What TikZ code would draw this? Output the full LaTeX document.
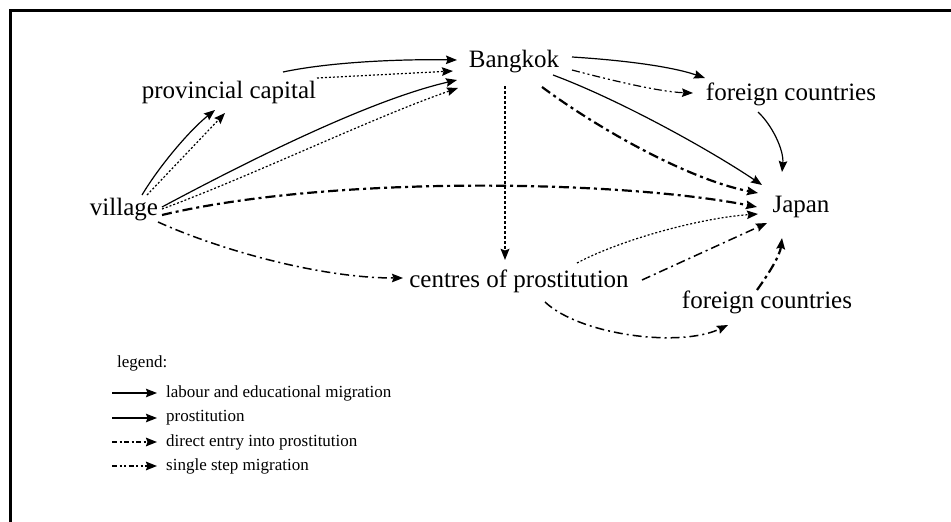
\documentclass[tikz,border=0pt]{standalone}
\usepackage{fontspec}
\setmainfont{Liberation Serif}
\usetikzlibrary{arrows.meta,calc}
\tikzset{
  lbl/.style={inner sep=0pt, font=\fontsize{25}{30}\selectfont},
  leg/.style={inner sep=0pt, anchor=west, font=\fontsize{17}{20}\selectfont},
  tip/.style={-{Stealth[length=11pt,width=8.5pt,inset=1.5pt]}},
  solidl/.style={tip, line width=1.2pt},
  dotl/.style={tip, line width=1.2pt, dash pattern=on 2pt off 2pt},
  dotthick/.style={tip, line width=2.2pt, dash pattern=on 2.5pt off 2.5pt},
  dashdotthick/.style={tip, line width=2.2pt, dash pattern=on 10pt off 4pt on 3pt off 4pt},
  dashdotthin/.style={tip, line width=1.5pt, dash pattern=on 9pt off 4pt on 2pt off 4pt},
  dashdotdot/.style={tip, line width=1.2pt, dash pattern=on 8pt off 3pt on 2pt off 3pt on 2pt off 3pt},
}
\begin{document}
\begin{tikzpicture}[x=1pt,y=-1pt]
\useasboundingbox (0,0) rectangle (951,522);
% frame (top and left edges)
\draw[line width=3pt, line join=miter] (10,522) -- (10,10) -- (951,10);

% nodes
\node[lbl] (V)  at (124,210) {village};
\node[lbl] (P)  at (229,92)  {provincial capital};
\node[lbl] (B)  at (514,62)  {Bangkok};
\node[lbl] (F1) at (791,94)  {foreign countries};
\node[lbl] (J)  at (801,207) {Japan};
\node[lbl] (C)  at (519,281) {centres of prostitution};
\node[lbl] (F2) at (767,302) {foreign countries};

% village -> provincial capital
\draw[solidl] ($(V)+(18,-15)$) .. controls ($(V)+(36,-45)$) and ($(P)+(-39,38)$) .. ($(P)+(-14,18)$);
\draw[dotl] ($(V)+(23,-15)$) -- ($(P)+(-4,21)$);
% village -> Bangkok
\draw[solidl] ($(V)+(38,-3)$) .. controls ($(V)+(126,-50)$) and ($(B)+(-144,38)$) .. ($(B)+(-57,18)$);
\draw[dotl] ($(V)+(38,-1)$) .. controls ($(V)+(130,-35)$) and ($(B)+(-140,55)$) .. ($(B)+(-56,26)$);
% provincial capital -> Bangkok
\draw[solidl] ($(P)+(54,-20)$) .. controls ($(P)+(101,-30)$) and ($(B)+(-114,-3)$) .. ($(B)+(-57,-2)$);
\draw[dotl] ($(P)+(88,-14)$) -- ($(B)+(-61,9)$);
% village -> Japan
\draw[dashdotthick] ($(V)+(38,5)$) .. controls ($(V)+(206,-35)$) and ($(J)+(-181,-27)$) .. ($(J)+(-44,0)$);
% village -> centres
\draw[dashdotthin] ($(V)+(34,12)$) .. controls ($(V)+(96,40)$) and ($(C)+(-199,-3)$) .. ($(C)+(-116,-3)$);
% Bangkok -> centres
\draw[dotthick] ($(B)+(-9,24)$) -- ($(C)+(-14,-21)$);
% Bangkok -> foreign countries (upper)
\draw[solidl] ($(B)+(58,-5)$) .. controls ($(B)+(106,-2)$) and ($(F1)+(-121,-28)$) .. ($(F1)+(-86,-16)$);
\draw[dashdotdot] ($(B)+(58,8)$) .. controls ($(B)+(96,18)$) and ($(F1)+(-131,-2)$) .. ($(F1)+(-98,-1)$);
% Bangkok -> Japan
\draw[solidl] ($(B)+(39,13)$) .. controls ($(B)+(106,38)$) and ($(J)+(-91,-57)$) .. ($(J)+(-39,-22)$);
\draw[dashdotthick] ($(B)+(28,25)$) .. controls ($(B)+(86,68)$) and ($(J)+(-111,-27)$) .. ($(J)+(-43,-14)$);
% foreign countries (upper) -> Japan
\draw[solidl] ($(F1)+(-33,18)$) .. controls ($(F1)+(-19,31)$) and ($(J)+(-17,-57)$) .. ($(J)+(-19,-35)$);
% centres -> Japan
\draw[dotl] ($(C)+(58,-18)$) .. controls ($(C)+(101,-41)$) and ($(J)+(-101,11)$) .. ($(J)+(-43,7)$);
\draw[dashdotthin] ($(C)+(123,-1)$) -- ($(J)+(-34,16)$);
% centres -> foreign countries (lower)
\draw[dashdotthin] ($(C)+(26,21)$) .. controls ($(C)+(61,54)$) and ($(F2)+(-87,46)$) .. ($(F2)+(-39,23)$);
% foreign countries (lower) -> Japan
\draw[dashdotthick] ($(F2)+(-10,-12)$) .. controls ($(F2)+(3,-30)$) and ($(J)+(-21,48)$) .. ($(J)+(-19,31)$);

% legend
\node[leg] (lg) at (117,363) {legend:};
\coordinate (a1) at (112,393); \coordinate (b1) at (157,393);
\coordinate (a2) at (112,418); \coordinate (b2) at (157,418);
\coordinate (a3) at (112,442); \coordinate (b3) at (157,442);
\coordinate (a4) at (112,466); \coordinate (b4) at (157,466);
\draw[tip, line width=1.2pt] (a1) -- (b1);
\draw[tip, line width=1.2pt] (a2) -- (b2);
\draw[tip, line width=1.8pt, dash pattern=on 5pt off 2.5pt on 2pt off 2.5pt] (a3) -- (b3);
\draw[tip, line width=1.8pt, dash pattern=on 5pt off 2.5pt on 2pt off 2.5pt on 2pt off 2.5pt] (a4) -- (b4);
\node[leg] (t1) at (166,393) {labour and educational migration};
\node[leg] (t2) at (166,418) {prostitution};
\node[leg] (t3) at (166,442) {direct entry into prostitution};
\node[leg] (t4) at (166,466) {single step migration};
\end{tikzpicture}
\end{document}
